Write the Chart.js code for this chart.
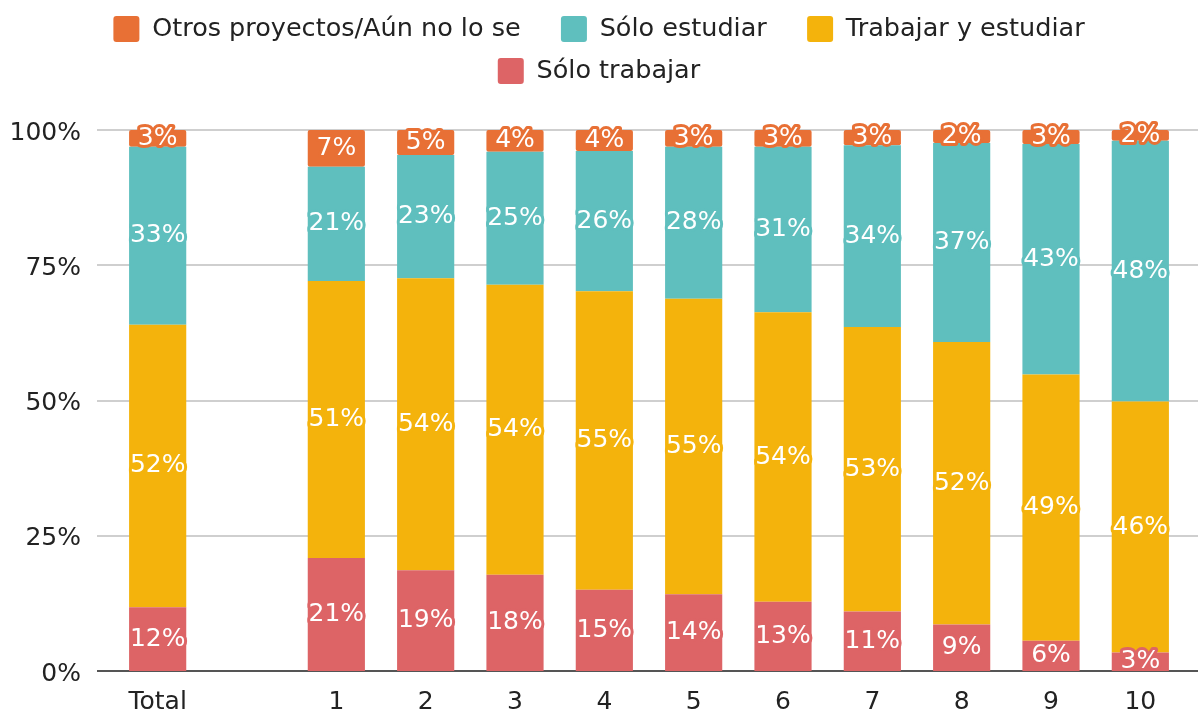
<!DOCTYPE html>
<html>
<head>
<meta charset="utf-8">
<script src="https://cdn.jsdelivr.net/npm/chart.js@4.4.0/dist/chart.umd.min.js"></script>
<style>
  html, body { margin: 0; padding: 0; background: #fff; }
  #wrap { width: 1198px; height: 716px; }
</style>
</head>
<body>
<div id="wrap"><canvas id="chart"></canvas></div>
<script>
// Categories (empty slot separates Total from the numbered groups)
const categories = ['Total', '', '1', '2', '3', '4', '5', '6', '7', '8', '9', '10'];

// Stacked shares in %, bottom to top
const soloTrabajar = [11.8, null, 20.9, 18.6, 17.8, 15.0, 14.2, 12.8, 11.0, 8.6, 5.6, 3.4];
const trabajarEstudiar = [52.2, null, 51.2, 54.0, 53.6, 55.2, 54.6, 53.5, 52.6, 52.2, 49.2, 46.4];
const soloEstudiar = [32.9, null, 21.1, 22.8, 24.6, 25.9, 28.1, 30.6, 33.6, 36.8, 42.6, 48.2];
const otros = [3.1, null, 6.8, 4.6, 4.0, 3.9, 3.1, 3.1, 2.8, 2.4, 2.6, 2.0];

const yTicks = [0, 25, 50, 75, 100];

const FONT = "'DejaVu Sans', sans-serif";
Chart.defaults.font.family = FONT;
Chart.defaults.font.size = 25;
Chart.defaults.color = '#222';

// White labels with an outline in the bar colour, centred in each segment
const segmentLabels = {
    id: 'segmentLabels',
    afterDatasetsDraw(chart) {
        const ctx = chart.ctx;
        ctx.save();
        ctx.font = '25px ' + FONT;
        ctx.textAlign = 'center';
        ctx.textBaseline = 'middle';
        ctx.lineJoin = 'round';
        chart.data.datasets.forEach((ds, i) => {
            const meta = chart.getDatasetMeta(i);
            meta.data.forEach((bar, j) => {
                const v = ds.data[j];
                if (v == null) return;
                const txt = Math.round(v) + '%';
                const y = (bar.y + bar.base) / 2;
                ctx.lineWidth = 6;
                ctx.strokeStyle = ds.backgroundColor;
                ctx.strokeText(txt, bar.x, y);
                ctx.fillStyle = '#fff';
                ctx.fillText(txt, bar.x, y);
            });
        });
        ctx.restore();
    }
};

// Horizontal grid lines running across the whole width, dark base line at 0%
const gridLines = {
    id: 'gridLines',
    beforeDatasetsDraw(chart) {
        const ctx = chart.ctx;
        const yScale = chart.scales.y;
        const x0 = chart.chartArea.left - 16;
        ctx.save();
        yScale.ticks.forEach(t => {
            const y = Math.round(yScale.getPixelForValue(t.value));
            ctx.beginPath();
            ctx.lineWidth = 2;
            ctx.strokeStyle = t.value === 0 ? '#555' : '#cfcfcf';
            ctx.moveTo(x0, y);
            ctx.lineTo(chart.width, y);
            ctx.stroke();
        });
        ctx.restore();
    }
};

// Extra room under the legend so the plot starts lower
const legendSpace = {
    id: 'legendSpace',
    beforeInit(chart) {
        const fit = chart.legend.fit;
        chart.legend.fit = function () {
            fit.call(this);
            this.height += 36;
        };
    }
};

const commonBar = {
    categoryPercentage: 0.8,
    barPercentage: 0.8,
    borderRadius: 2,
    borderSkipped: false
};

new Chart(document.getElementById('chart'), {
    type: 'bar',
    data: {
        labels: categories,
        datasets: [
            { label: 'Sólo trabajar', data: soloTrabajar, backgroundColor: '#dd6466', ...commonBar },
            { label: 'Trabajar y estudiar', data: trabajarEstudiar, backgroundColor: '#f4b30c', ...commonBar },
            { label: 'Sólo estudiar', data: soloEstudiar, backgroundColor: '#5fbfbe', ...commonBar },
            { label: 'Otros proyectos/Aún no lo se', data: otros, backgroundColor: '#e87035', ...commonBar }
        ]
    },
    options: {
        responsive: true,
        maintainAspectRatio: false,
        animation: false,
        layout: { padding: 0 },
        scales: {
            x: {
                stacked: true,
                grid: { display: false },
                border: { display: false },
                afterFit(scale) {
                    scale.height = 45;
                },
                ticks: { padding: 8, color: '#222' }
            },
            y: {
                stacked: true,
                min: 0,
                max: 100,
                afterBuildTicks(scale) {
                    scale.ticks = yTicks.map(v => ({ value: v }));
                },
                afterFit(scale) {
                    scale.width = 113;
                },
                grid: { display: false },
                border: { display: false },
                ticks: {
                    padding: 24,
                    labelOffset: 3,
                    color: '#222',
                    callback: v => v + '%'
                }
            },
            // empty strip on the right so the plot ends short of the edge
            yRight: {
                position: 'right',
                grid: { display: false },
                border: { display: false },
                ticks: { display: false },
                afterFit(scale) {
                    scale.width = 13;
                }
            }
        },
        plugins: {
            legend: {
                position: 'top',
                reverse: true,
                labels: {
                    boxWidth: 26,
                    boxHeight: 26,
                    useBorderRadius: true,
                    borderRadius: 3,
                    padding: 16,
                    color: '#222',
                    font: { size: 25.5 },
                    generateLabels(chart) {
                        const items = Chart.defaults.plugins.legend.labels.generateLabels(chart);
                        items.forEach(it => {
                            if (it.datasetIndex >= 2) it.text += '   ';
                        });
                        return items;
                    }
                }
            },
            tooltip: { enabled: false }
        }
    },
    plugins: [legendSpace, gridLines, segmentLabels]
});
</script>
</body>
</html>
